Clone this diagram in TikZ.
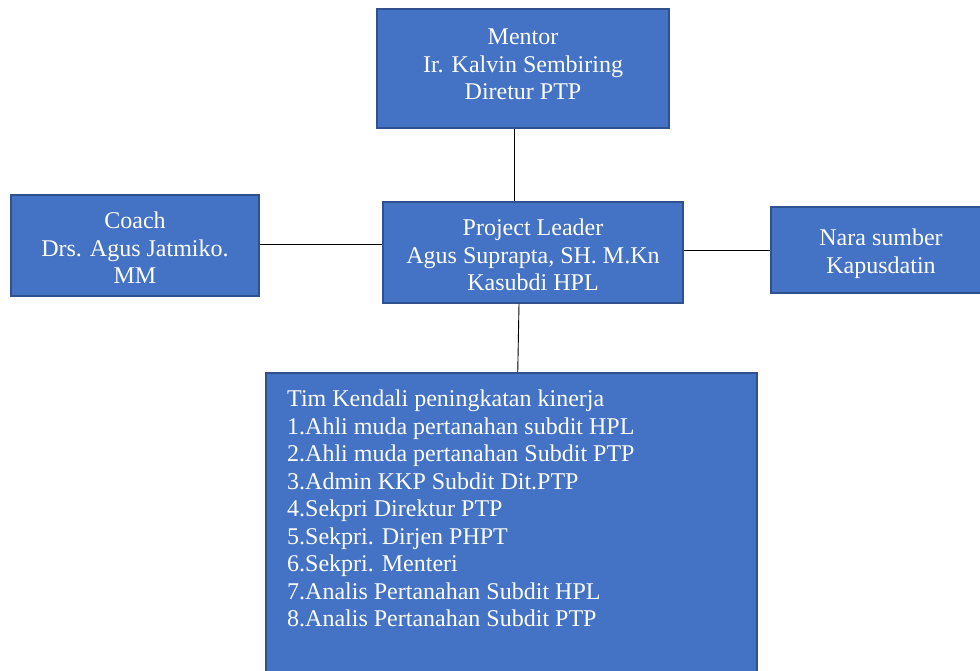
\documentclass[tikz,border=0pt]{standalone}
\usepackage{fontspec}
\setmainfont{Liberation Serif}
\usetikzlibrary{positioning}
\definecolor{kotak}{HTML}{4472C4}
\definecolor{garis}{HTML}{2F528F}
\tikzset{
  kotak/.style={draw=garis, line width=1.5pt, fill=kotak},
  teks/.style={text=white, align=center, inner sep=0pt,
    font=\fontsize{24}{27.5}\selectfont},
  hubung/.style={draw=black, line width=0.9pt}
}

\begin{document}
\begin{tikzpicture}[x=1pt,y=-1pt]
\useasboundingbox (0,0) rectangle (980,671); % ukuran gambar
\clip (0,0) rectangle (980,671);
% kotak-kotak
\node[kotak, minimum width=292pt, minimum height=119pt] (mentor) at (523,68.5) {};
\node[kotak, minimum width=248pt, minimum height=101pt] (coach) at (135,245.5) {};
\node[kotak, minimum width=300pt, minimum height=101pt] (leader) at (533,252.5) {};
\node[kotak, minimum width=220pt, minimum height=86pt] (nara) at (881,250) {};
\node[kotak, minimum width=491pt, minimum height=340pt, anchor=north west] (tim) at (265,372) {};
% isi kotak
\node[teks] (mentor-teks) at ([yshift=4pt]mentor.center) {Mentor\\Ir. Kalvin Sembiring\\Diretur PTP};
\node[teks] (coach-teks) at ([yshift=-2.5pt]coach.center) {Coach\\Drs. Agus Jatmiko.\\MM};
\node[teks] (leader-teks) at ([yshift=-2.5pt]leader.center) {Project Leader\\Agus Suprapta, SH. M.Kn\\Kasubdi HPL};
\node[teks] (nara-teks) at ([yshift=-3.5pt]nara.center) {Nara sumber\\Kapusdatin};
\node[teks, anchor=north west, align=left] (tim-teks) at (287,390)
  {Tim Kendali peningkatan kinerja\\
   1.Ahli muda pertanahan subdit HPL\\
   2.Ahli muda pertanahan Subdit PTP\\
   3.Admin KKP Subdit Dit.PTP\\
   4.Sekpri Direktur PTP\\
   5.Sekpri. Dirjen PHPT\\
   6.Sekpri. Menteri\\
   7.Analis Pertanahan Subdit HPL\\
   8.Analis Pertanahan Subdit PTP};
% garis penghubung
\draw[hubung] ([xshift=-9pt]mentor.south) -- ([xshift=-19pt]leader.north);
\draw[hubung] ([yshift=1.5pt]coach.east) -- ([yshift=1.5pt]coach.east -| leader.west);
\draw[hubung] (nara.west) -- (nara.west -| leader.east);
\draw[hubung] ([xshift=-14pt]leader.south) -- ([xshift=6.5pt]tim.north);
\end{tikzpicture}
\end{document}
